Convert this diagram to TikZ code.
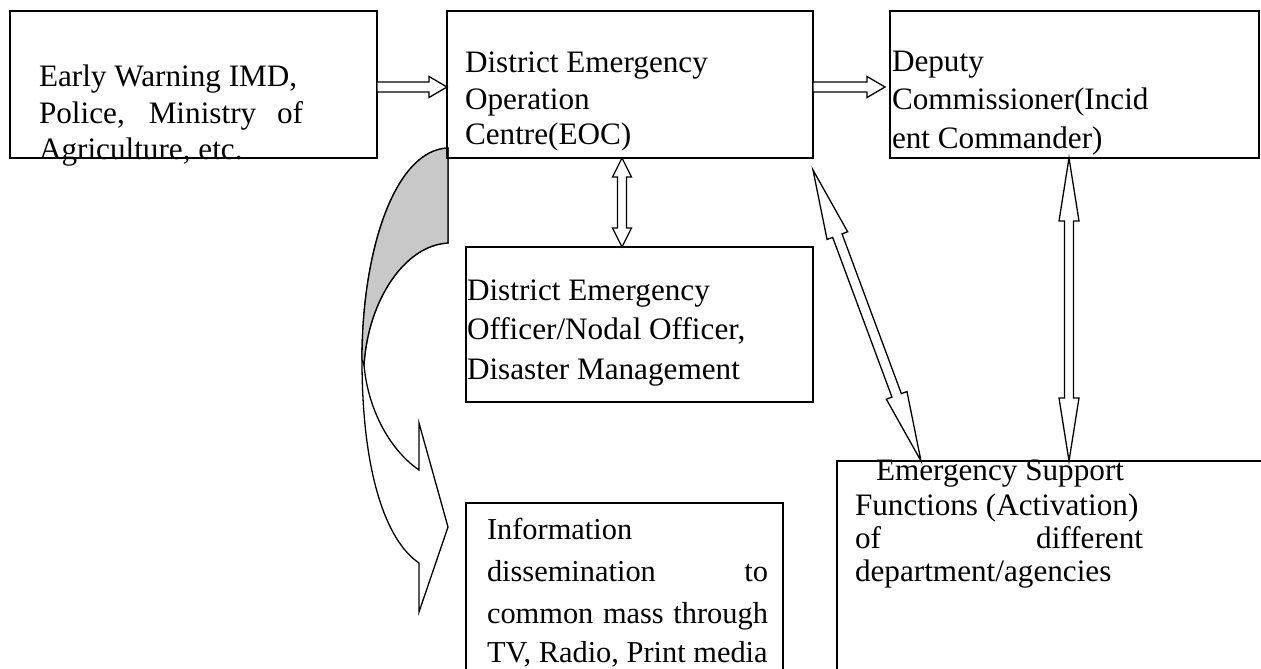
\documentclass[tikz,border=0pt]{standalone}
\usepackage{fontspec}
\setmainfont{Liberation Serif}
\usetikzlibrary{calc}

% hollow block arrow with a head at both ends: #1,#2 ends, #3 head length,
% #4 head half-width, #5 shaft half-width
\newcommand{\twowayarrow}[5]{%
  \draw[barrow] (#1)
    -- ($(#1)!#3!(#2)!#4!90:(#2)$)
    -- ($(#1)!#3!(#2)!#5!90:(#2)$)
    -- ($(#2)!#3!(#1)!#5!-90:(#1)$)
    -- ($(#2)!#3!(#1)!#4!-90:(#1)$)
    -- (#2)
    -- ($(#2)!#3!(#1)!#4!90:(#1)$)
    -- ($(#2)!#3!(#1)!#5!90:(#1)$)
    -- ($(#1)!#3!(#2)!#5!-90:(#2)$)
    -- ($(#1)!#3!(#2)!#4!-90:(#2)$)
    -- cycle;}
% hollow block arrow from #1 to #2
\newcommand{\onewayarrow}[5]{%
  \draw[barrow] ($(#1)!#5!90:(#2)$)
    -- ($(#2)!#3!(#1)!#5!-90:(#1)$)
    -- ($(#2)!#3!(#1)!#4!-90:(#1)$)
    -- (#2)
    -- ($(#2)!#3!(#1)!#4!90:(#1)$)
    -- ($(#2)!#3!(#1)!#5!90:(#1)$)
    -- ($(#1)!#5!-90:(#2)$)
    -- cycle;}

\begin{document}
\begin{tikzpicture}[x=1pt,y=-1pt,
  box/.style={draw, line width=1.8pt, rectangle, inner sep=0pt, outer sep=0pt, anchor=north west},
  txt/.style={anchor=base west, inner sep=0pt, outer sep=0pt,
              font=\fontsize{31.2pt}{37pt}\selectfont},
  smalltxt/.style={txt, font=\fontsize{30.4pt}{37pt}\selectfont},
  barrow/.style={draw, line width=1.3pt, fill=white, line join=miter},
  bandback/.style={draw, line width=1.3pt, fill={rgb,255:red,200;green,200;blue,200}}]

\clip (0,0) rectangle (1261,669);
\fill[white] (0,0) rectangle (1261,669);

% curved arrow from the operation centre down to the dissemination box
\draw[barrow] (448,148) -- (448,243)
  .. controls (405,245) and (368,300) .. (364,365)
  .. controls (368,410) and (390,450) .. (419,470)
  -- (419,423) -- (448,527) -- (419,612) -- (419,563)
  .. controls (385,540) and (362,470) .. (362,360)
  .. controls (362,250) and (395,150) .. (448,148) -- cycle;
\draw[bandback] (448,148) -- (448,243)
  .. controls (405,245) and (368,300) .. (364,365)
  -- (362,360)
  .. controls (362,250) and (395,150) .. (448,148) -- cycle;

% boxes
\node[box, minimum width=367pt, minimum height=147pt] (warn) at (10,11) {};
\node[box, minimum width=366pt, minimum height=147pt] (eoc) at (447,11) {};
\node[box, minimum width=369pt, minimum height=147pt] (dep) at (890,11) {};
\node[box, minimum width=347pt, minimum height=155pt] (deo) at (466,247) {};
\node[box, minimum width=317pt, minimum height=220pt] (info) at (466,503) {};
\node[box, minimum width=450pt, minimum height=250pt] (esf) at (837,461) {};

% texts
\node[txt] (warn1) at (39,86) {Early Warning IMD,};
\node[txt] (warn2) at (39,123) {\makebox[264pt][s]{Police, Ministry of}};
\node[txt] (warn3) at (39,159) {Agriculture, etc.};

\node[txt] (eoc1) at (465,73) {District Emergency};
\node[txt] (eoc2) at (465,110) {Operation};
\node[txt] (eoc3) at (465,144) {Centre(EOC)};

\node[txt] (dep1) at (892,72) {Deputy};
\node[txt] (dep2) at (892,110) {Commissioner(Incid};
\node[txt] (dep3) at (892,148) {ent Commander)};

\node[txt] (deo1) at (467,300) {District Emergency};
\node[txt] (deo2) at (467,339) {Officer/Nodal Officer,};
\node[txt] (deo3) at (467,379) {Disaster Management};

\node[smalltxt] (info1) at (487,539) {Information};
\node[smalltxt] (info2) at (487,581) {\makebox[281pt][s]{dissemination to}};
\node[smalltxt] (info3) at (487,623) {\makebox[281pt][s]{common mass through}};
\node[smalltxt] (info4) at (487,662) {TV, Radio, Print media};

\node[txt] (esf1) at (876,480) {Emergency Support};
\node[txt] (esf2) at (855,515) {Functions (Activation)};
\node[txt] (esf3) at (855,548) {\makebox[288pt][s]{of different}};
\node[txt] (esf4) at (855,581) {department/agencies};

% connector ends
\coordinate (a1s) at ([yshift=-2.5pt]warn.east);
\coordinate (a1e) at ([yshift=-2.5pt]eoc.west);
\coordinate (a2s) at ([yshift=-2.5pt]eoc.east);
\coordinate (a2e) at ([xshift=-5pt,yshift=-2.5pt]dep.west);
\coordinate (v1s) at ([xshift=-8pt]eoc.south);
\coordinate (v1e) at (v1s |- deo.north);
\coordinate (v2s) at ([xshift=-5.5pt]dep.south);
\coordinate (v2e) at (v2s |- esf.north);
\coordinate (d1s) at ([yshift=-12pt]eoc.south east);
\coordinate (d1e) at ([xshift=84pt]esf.north west);

% connectors
\onewayarrow{a1s}{a1e}{18pt}{10.5pt}{5pt}
\onewayarrow{a2s}{a2e}{18pt}{10.5pt}{5pt}
\twowayarrow{v1s}{v1e}{19pt}{9.5pt}{4.5pt}
\twowayarrow{v2s}{v2e}{63pt}{10pt}{4.5pt}
\twowayarrow{d1s}{d1e}{70pt}{11pt}{5pt}
\end{tikzpicture}
\end{document}
